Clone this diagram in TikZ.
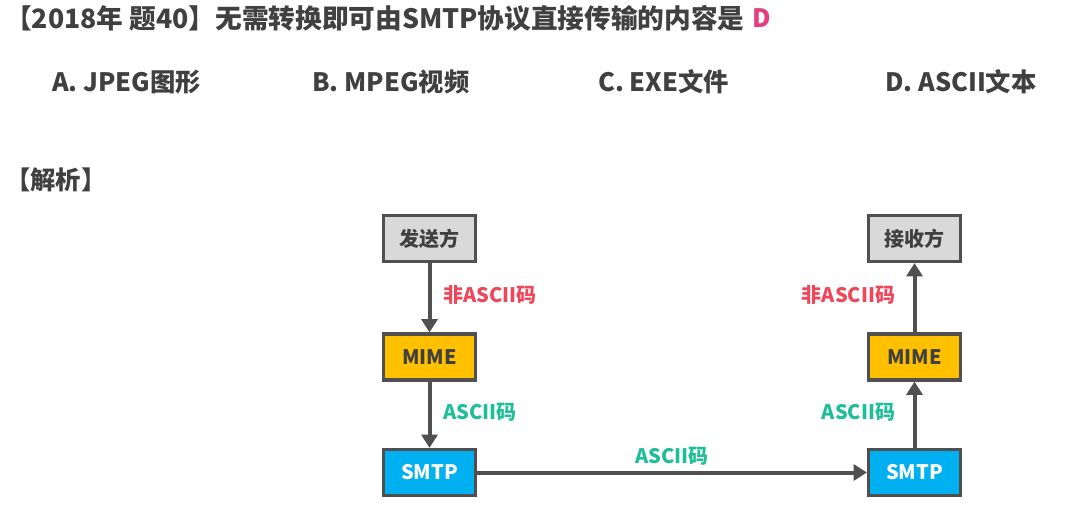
\documentclass[tikz,border=0pt]{standalone}
\usepackage{fontspec}
\setmainfont{Noto Sans CJK SC}
\usetikzlibrary{arrows.meta,positioning}
\definecolor{ink}{RGB}{64,64,64}
\definecolor{edgec}{RGB}{80,80,80}
\definecolor{sender}{RGB}{217,217,217}
\definecolor{mime}{RGB}{255,192,0}
\definecolor{smtp}{RGB}{0,176,240}
\definecolor{nonascii}{RGB}{240,70,90}
\definecolor{ascii}{RGB}{30,190,150}
\definecolor{answer}{RGB}{230,60,130}

\begin{document}
\begin{tikzpicture}[x=0.75pt,y=-0.75pt,
  box/.style={draw=edgec,line width=2.4pt,minimum width=69pt,minimum height=34.5pt,inner sep=0pt,
    font=\bfseries\fontsize{15}{15}\selectfont,text=ink},
  txt/.style={anchor=west,inner sep=0pt,font=\bfseries\fontsize{19}{19}\selectfont,text=ink},
  lbl/.style={inner sep=0pt,font=\bfseries\fontsize{15}{15}\selectfont},
  flow/.style={-{Triangle[length=10pt,width=12pt]},line width=3pt,draw=edgec}]
\useasboundingbox (0,0) rectangle (1069,525);

% question and choices
\node[txt,font=\bfseries\fontsize{20}{20}\selectfont] (title) at (5,18) {【2018年 题40】无需转换即可由SMTP协议直接传输的内容是};
\node[txt,text=answer] (key) at (752,18) {D};
\node[txt] (optA) at (52,82) {A. JPEG图形};
\node[txt] (optB) at (312,82) {B. MPEG视频};
\node[txt] (optC) at (598,82) {C. EXE文件};
\node[txt] (optD) at (885,82) {D. ASCII文本};
\node[txt] (note) at (5,180) {【解析】};

% sender side
\node[box,fill=sender] (send) at (429.5,238.5) {发送方};
\node[box,fill=mime] (mimeL) at (429.5,357) {MIME};
\node[box,fill=smtp,text=white] (smtpL) at (429.5,472.5) {SMTP};

% receiver side
\node[box,fill=sender] (recv) at (914.5,238.5) {接收方};
\node[box,fill=mime] (mimeR) at (914.5,357) {MIME};
\node[box,fill=smtp,text=white] (smtpR) at (914.5,472.5) {SMTP};

\draw[flow] (send) -- node[lbl,text=nonascii,anchor=west,xshift=9pt,yshift=2pt] {非ASCII码} (mimeL);
\draw[flow] (mimeL) -- node[lbl,text=ascii,anchor=west,xshift=9pt,yshift=2pt] {ASCII码} (smtpL);
\draw[flow] (smtpL) -- node[lbl,text=ascii,above=4pt] {ASCII码} (smtpR);
\draw[flow] (smtpR) -- node[lbl,text=ascii,anchor=east,xshift=-13pt,yshift=2pt] {ASCII码} (mimeR);
\draw[flow] (mimeR) -- node[lbl,text=nonascii,anchor=east,xshift=-13pt,yshift=2pt] {非ASCII码} (recv);
\end{tikzpicture}
\end{document}
